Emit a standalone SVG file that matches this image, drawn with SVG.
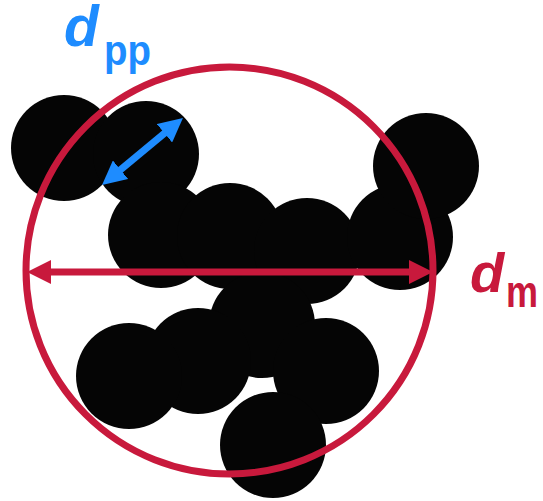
<svg xmlns="http://www.w3.org/2000/svg" width="543" height="501" viewBox="0 0 543 501">
  <style>
    .particle { fill: #050505; }
    .boundary { fill: none; stroke: #c8193c; stroke-width: 7; }
    .dim-red { stroke: #c8193c; stroke-width: 7; fill: none; }
    .dim-blue { stroke: #1e8cff; stroke-width: 7; fill: none; }
    .label { font-family: "Liberation Sans", Arial, sans-serif; font-weight: bold; }
    .red { fill: #c8193c; }
    .blue { fill: #1e8cff; }
  </style>
  <defs>
    <marker id="head-red" markerUnits="userSpaceOnUse" markerWidth="24" markerHeight="24" viewBox="0 0 24 24" refX="2" refY="12" orient="auto-start-reverse">
      <path d="M0,0 L24,12 L0,24 z" fill="#c8193c"/>
    </marker>
    <marker id="head-blue" markerUnits="userSpaceOnUse" markerWidth="24" markerHeight="24" viewBox="0 0 24 24" refX="2" refY="12" orient="auto-start-reverse">
      <path d="M0,0 L24,12 L0,24 z" fill="#1e8cff"/>
    </marker>
  </defs>

  <!-- aggregate of primary particles -->
  <g id="aggregate">
    <circle id="p1" class="particle" cx="64" cy="148" r="53"/>
    <circle id="p2" class="particle" cx="146" cy="154" r="53"/>
    <circle id="p3" class="particle" cx="161" cy="235" r="53"/>
    <circle id="p4" class="particle" cx="230" cy="236" r="53"/>
    <circle id="p5" class="particle" cx="307" cy="251" r="53"/>
    <circle id="p6" class="particle" cx="400" cy="237" r="53"/>
    <circle id="p7" class="particle" cx="426" cy="166" r="53"/>
    <circle id="p8" class="particle" cx="262" cy="325" r="53"/>
    <circle id="p9" class="particle" cx="198" cy="361" r="53"/>
    <circle id="p10" class="particle" cx="129" cy="376" r="53"/>
    <circle id="p11" class="particle" cx="326" cy="371" r="53"/>
    <circle id="p12" class="particle" cx="273" cy="445" r="53"/>
  </g>

  <!-- enclosing circle (mobility diameter) -->
  <g id="enclosing-circle">
    <circle class="boundary" cx="229.5" cy="270.5" r="203.5"/>
  </g>

  <!-- dimension arrows -->
  <g id="connectors">
    <line id="dm-arrow" class="dim-red" x1="49" y1="272" x2="411" y2="272" marker-start="url(#head-red)" marker-end="url(#head-red)"/>
    <line id="dpp-arrow" class="dim-blue" x1="119" y1="171" x2="166" y2="132" marker-start="url(#head-blue)" marker-end="url(#head-blue)"/>
  </g>

  <!-- labels -->
  <g id="label-dpp">
    <text class="label blue" x="64" y="46" font-size="57" font-style="italic">d</text>
    <text class="label blue" x="104" y="65" font-size="42" textLength="47" lengthAdjust="spacingAndGlyphs">pp</text>
  </g>
  <g id="label-dm">
    <text class="label red" x="470" y="292" font-size="56" font-style="italic">d</text>
    <text class="label red" x="506" y="307" font-size="44" textLength="32" lengthAdjust="spacingAndGlyphs">m</text>
  </g>
</svg>
